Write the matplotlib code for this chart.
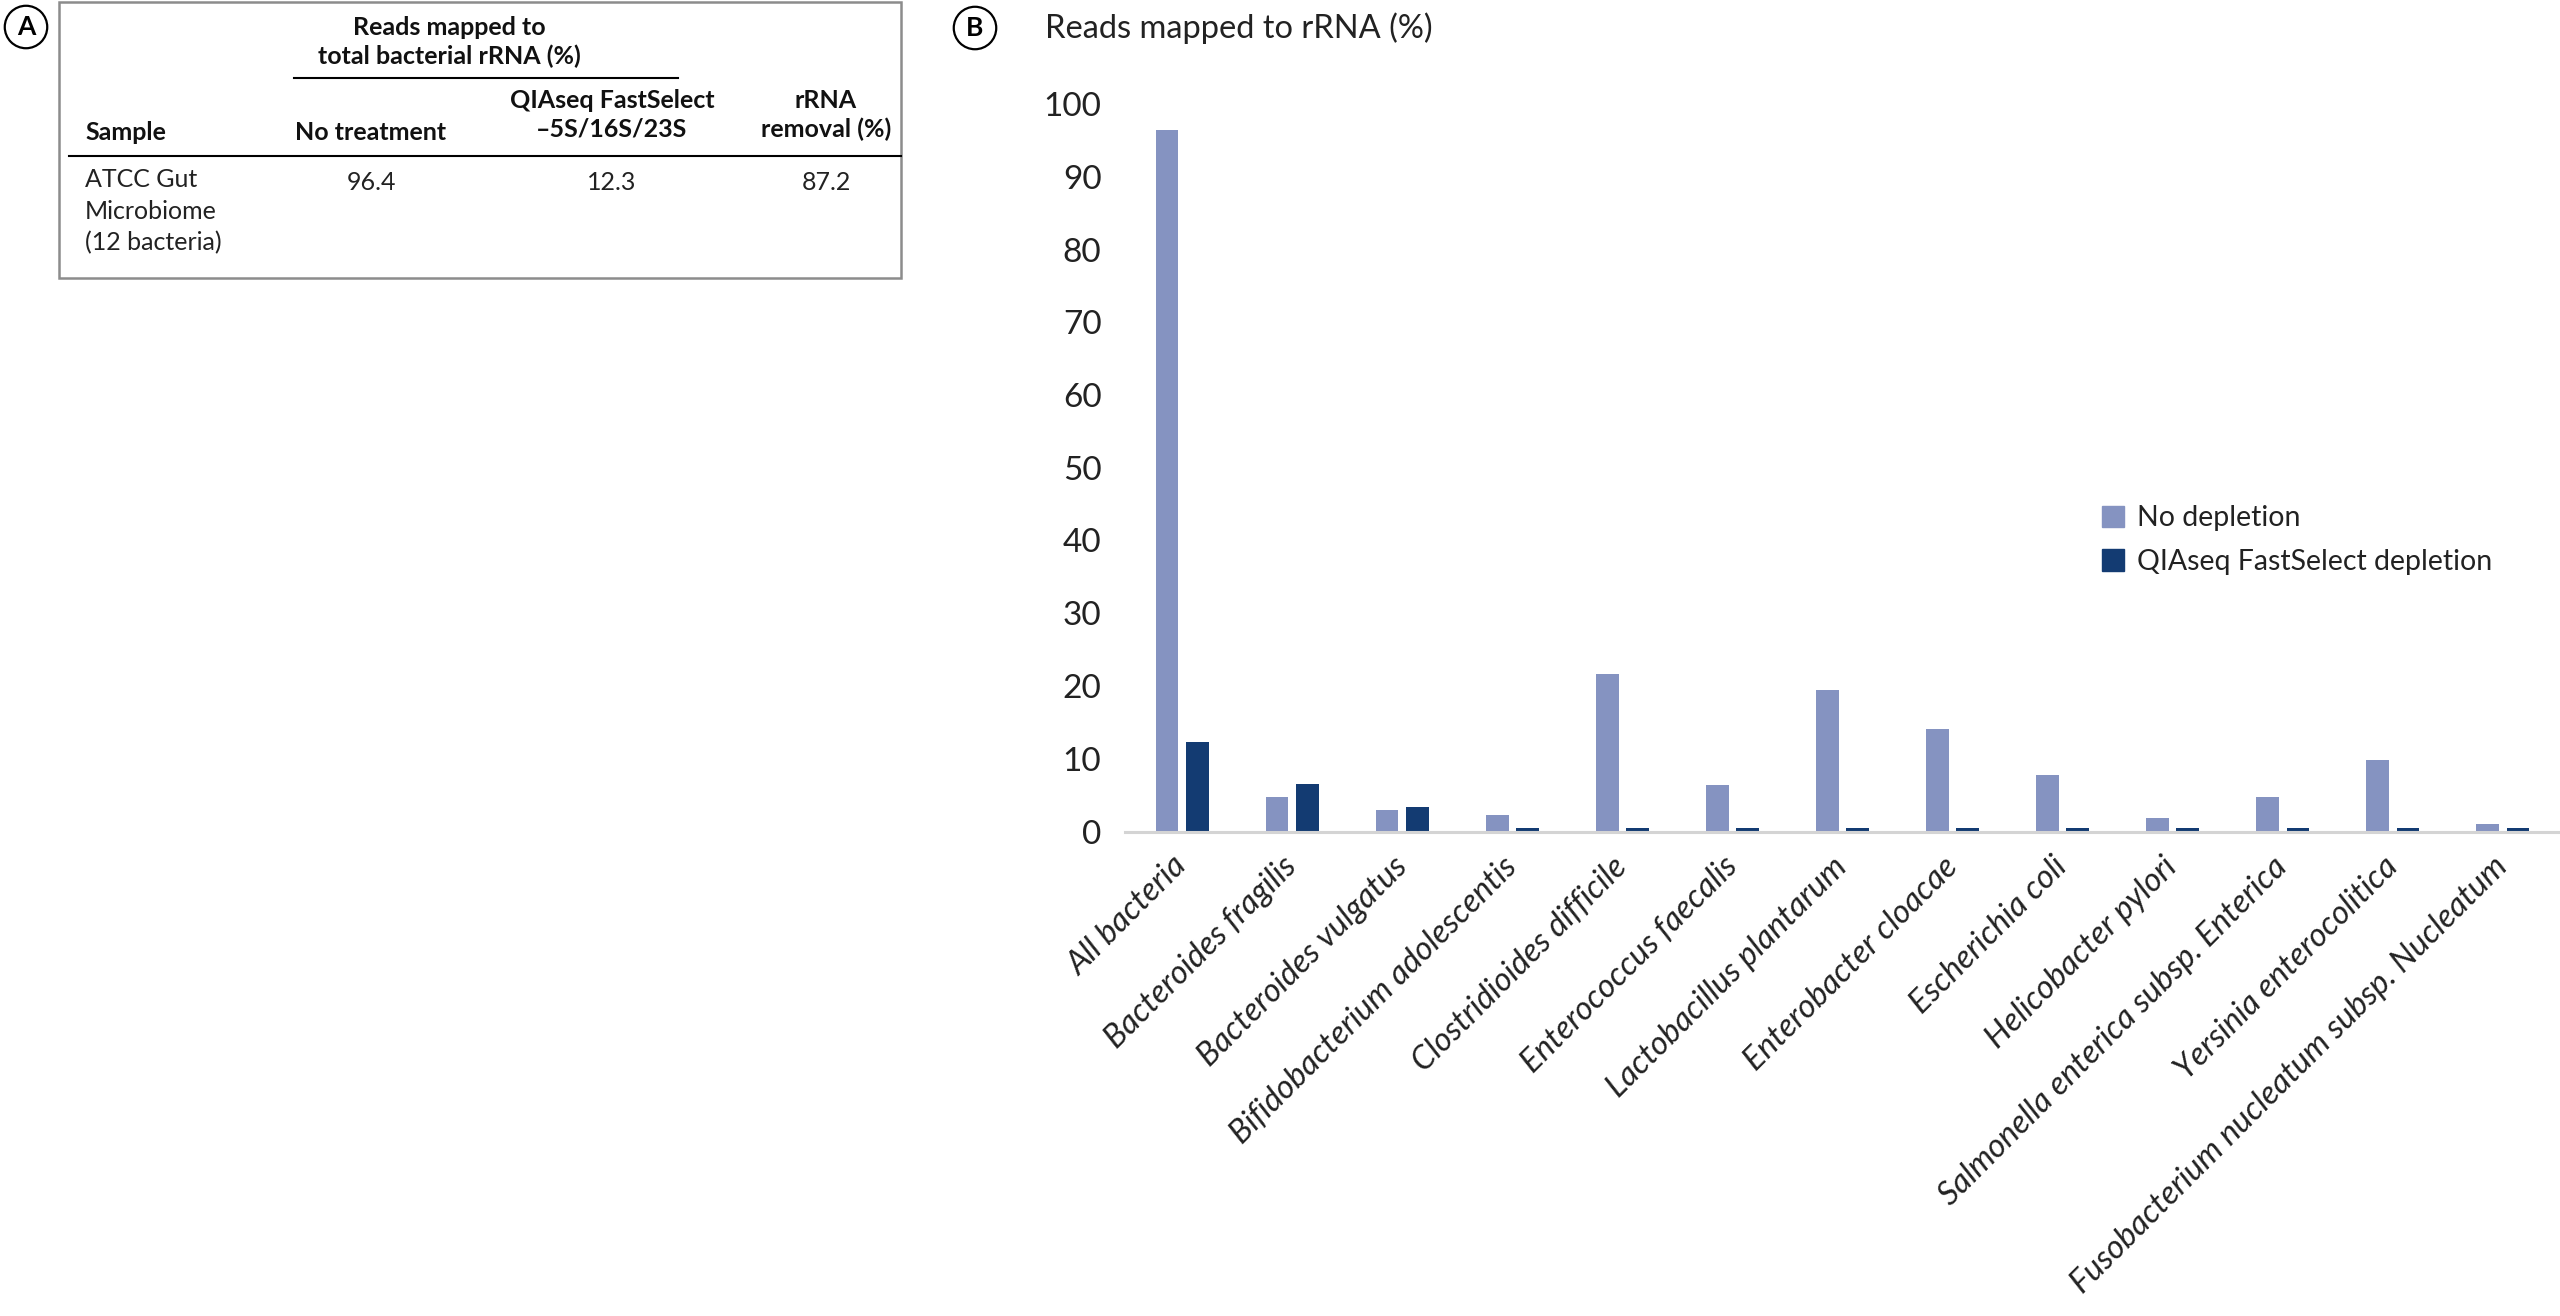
import matplotlib
matplotlib.use("Agg")
import matplotlib.pyplot as plt
from matplotlib.patches import Rectangle, Patch
import numpy as np

plt.rcParams['font.family'] = ['Lato', 'DejaVu Sans']

# panel B data
species = ["All bacteria", "Bacteroides fragilis", "Bacteroides vulgatus",
           "Bifidobacterium adolescentis", "Clostridioides difficile",
           "Enterococcus faecalis", "Lactobacillus plantarum",
           "Enterobacter cloacae", "Escherichia coli", "Helicobacter pylori",
           "Salmonella enterica subsp. Enterica", "Yersinia enterocolitica",
           "Fusobacterium nucleatum subsp. Nucleatum"]
no_depletion = [96.4, 4.7, 3.0, 2.2, 21.7, 6.4, 19.5, 14.1, 7.7, 1.9, 4.7, 9.8, 1.0]
fastselect = [12.3, 6.5, 3.4, 0.5, 0.5, 0.5, 0.5, 0.5, 0.5, 0.5, 0.5, 0.5, 0.5]
series_names = ["No depletion", "QIAseq FastSelect depletion"]

# panel A table
table_header = ["Sample", "No treatment", "QIAseq FastSelect\n\u20135S/16S/23S", "rRNA\nremoval (%)"]
table_group = "Reads mapped to\ntotal bacterial rRNA (%)"
table_row = ["ATCC Gut\nMicrobiome\n(12 bacteria)", "96.4", "12.3", "87.2"]

light = "#8593c1"
dark = "#133b72"
W, H = 2560, 1316


def px(x, y):
    return x / W, 1 - y / H


fig = plt.figure(figsize=(25.6, 13.16), dpi=100)

# ---- panel A: table ----
fig.patches.append(Rectangle(px(59, 278), (901 - 59) / W, 276 / H, transform=fig.transFigure,
                             fill=False, edgecolor="#8c8c8c", lw=1.8))
fig.text(*px(26, 27), "A", ha="center", va="center", fontsize=19, fontweight="bold",
         bbox=dict(boxstyle="circle,pad=0.35", fc="white", ec="black", lw=1.6))

hfont = dict(fontweight="bold", fontsize=18, color="#111111")
fig.text(*px(449, 42), table_group, ha="center", va="center", linespacing=1.3, **hfont)
fig.lines.append(plt.Line2D([294 / W, 678 / W], [1 - 78 / H] * 2, transform=fig.transFigure,
                            color="black", lw=1.5))
fig.text(*px(85, 132), table_header[0], ha="left", va="center", **hfont)
fig.text(*px(371, 132), table_header[1], ha="center", va="center", **hfont)
fig.text(*px(612, 115), table_header[2], ha="center", va="center", linespacing=1.3, **hfont)
fig.text(*px(826, 115), table_header[3], ha="center", va="center", linespacing=1.3, **hfont)
fig.lines.append(plt.Line2D([69 / W, 901 / W], [1 - 156 / H] * 2, transform=fig.transFigure,
                            color="black", lw=1.5))
bfont = dict(fontsize=18, color="#222222")
fig.text(*px(85, 168), table_row[0], ha="left", va="top", linespacing=1.45, **bfont)
for xc, val in zip([371, 612, 826], table_row[1:]):
    fig.text(*px(xc, 182), val, ha="center", va="center", **bfont)

# ---- panel B: bar chart ----
fig.text(*px(975, 28), "B", ha="center", va="center", fontsize=19, fontweight="bold",
         bbox=dict(boxstyle="circle,pad=0.35", fc="white", ec="black", lw=1.6))
fig.text(*px(1045, 28), "Reads mapped to rRNA (%)", ha="left", va="center",
         fontsize=23.5, color="#222222")

ax = fig.add_axes([1125 / W, 1 - 831.5 / H, (W - 1125) / W, 727.5 / H])
x = np.arange(len(species))
bw = 0.206
off = 0.138
ax.bar(x - off, no_depletion, bw, color=light, label=series_names[0])
ax.bar(x + off, fastselect, bw, color=dark, label=series_names[1])
ax.set_xlim(-0.52, len(species) - 0.48)
ax.set_ylim(0, 100)
ax.set_yticks(range(0, 101, 10))
ax.tick_params(axis="y", length=0, pad=17, labelsize=24, labelcolor="#222222")
ax.tick_params(axis="x", length=0, pad=22, labelcolor="#222222")
ax.set_xticks(x)
ax.set_xticklabels(species, rotation=45, ha="right", va="center", rotation_mode="anchor",
                   fontsize=23.5, style="italic")
for s in ["left", "right", "top"]:
    ax.spines[s].set_visible(False)
ax.spines["bottom"].set_color("#d4d4d4")
ax.spines["bottom"].set_linewidth(2.2)

handles = [Patch(color=light), Patch(color=dark)]
fig.legend(handles, series_names, loc="center left", bbox_to_anchor=(2102 / W, 1 - 540 / H),
           frameon=False, handlelength=0.78, handleheight=0.78,
           handletextpad=0.45, labelspacing=0.62, borderaxespad=0, borderpad=0,
           prop=dict(size=20.5), labelcolor="#222222")

fig.savefig("out.png", dpi=100, facecolor="white")
